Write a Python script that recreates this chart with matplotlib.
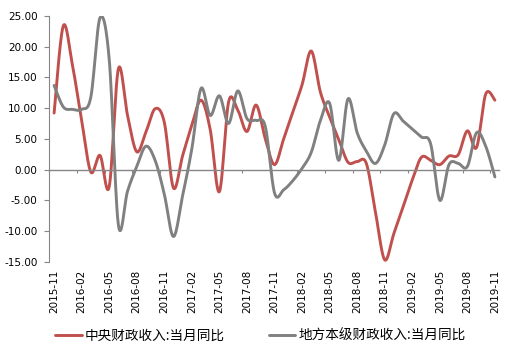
import numpy as np
import matplotlib
matplotlib.use("Agg")
import matplotlib.pyplot as plt
from matplotlib.ticker import FixedLocator, FormatStrFormatter

# monthly, 2015-11 .. 2019-11
months = []
for yr in range(2015, 2020):
    for m in range(1, 13):
        if (yr == 2015 and m < 11) or (yr == 2019 and m > 11):
            continue
        months.append(f"{yr}-{m:02d}")

central = [9.2, 23.4, 17.0, 8.0, -0.4, 2.3, -2.8, 16.4, 8.8, 2.9,
           6.1, 9.9, 7.7, -3.0, 2.3, 7.2, 11.3, 6.5, -3.6, 11.0,
           9.7, 6.2, 10.5, 5.0, 0.8, 5.0, 9.4, 13.8, 19.3, 12.6,
           8.6, 4.9, 1.2, 1.3, 1.0, -7.0, -14.7, -10.4, -6.1, -1.7,
           2.0, 1.5, 0.8, 2.2, 2.4, 6.3, 3.6, 12.3, 11.3]

local = [13.7, 10.2, 9.8, 9.8, 11.8, 24.7, 18.0, -9.0, -3.5, 0.5,
         3.8, 1.5, -4.0, -10.9, -4.2, 3.4, 13.2, 8.8, 12.0, 7.5,
         12.8, 8.3, 8.0, 7.0, -3.8, -3.3, -1.8, 0.2, 2.8, 8.0,
         10.8, 1.5, 11.5, 6.0, 3.0, 1.0, 4.0, 9.1, 7.9, 6.6,
         5.3, 4.2, -5.0, 0.8, 1.0, 0.5, 6.0, 3.8, -1.2]

names = ["中央财政收入:当月同比", "地方本级财政收入:当月同比"]
colors = ["#C0504D", "#808080"]


def smooth(vals, steps=24):
    # excel-like smoothed line (catmull-rom bezier)
    p = np.column_stack([np.arange(len(vals)), np.asarray(vals, float)])
    out = [p[0]]
    t = np.linspace(0, 1, steps)[1:, None]
    for i in range(len(p) - 1):
        p0 = p[max(i - 1, 0)]
        p1, p2 = p[i], p[i + 1]
        p3 = p[min(i + 2, len(p) - 1)]
        c1 = p1 + (p2 - p0) / 6
        c2 = p2 - (p3 - p1) / 6
        seg = ((1 - t) ** 3) * p1 + 3 * ((1 - t) ** 2) * t * c1 \
            + 3 * (1 - t) * t ** 2 * c2 + t ** 3 * p2
        out.extend(seg)
    out = np.array(out)
    return out[:, 0], out[:, 1]


fig = plt.figure(figsize=(5.1, 3.53), dpi=100)
ax = fig.add_axes([49.5 / 510, 1 - 261.7 / 353, 450 / 510, (261.7 - 16) / 353])

handles = []
for vals, name, c in zip([central, local], names, colors):
    xs, ys = smooth(vals)
    h, = ax.plot(xs, ys, color=c, lw=2.1, solid_capstyle="round", label=name)
    handles.append(h)

ax.set_xlim(-0.5, len(months) - 0.5)
ax.set_ylim(-15, 25)
ax.set_yticks(np.arange(-15, 26, 5))
ax.yaxis.set_major_formatter(FormatStrFormatter("%.2f"))

tick_pos = list(range(0, len(months), 3))
ax.set_xticks(tick_pos)
ax.set_xticklabels([months[i] for i in tick_pos])
ax.xaxis.set_minor_locator(FixedLocator([i - 0.5 for i in tick_pos]))

axis_col = "#868686"
for s in ["right", "bottom"]:
    ax.spines[s].set_visible(False)
ax.spines["left"].set_color(axis_col)
ax.spines["top"].set_position(("data", 0))
ax.spines["top"].set_color(axis_col)
ax.spines["top"].set_linewidth(1.0)

ax.tick_params(axis="y", direction="out", length=3.6, width=0.8, color=axis_col,
               pad=5, labelsize=7.5, labelcolor="#000000")
ax.tick_params(axis="x", which="major", length=0, pad=6, labelsize=7.5,
               labelrotation=90, bottom=True, top=False)
ax.tick_params(axis="x", which="minor", top=True, bottom=False, direction="in",
               length=2.5, width=0.8, color=axis_col)
for lab in ax.get_xticklabels():
    lab.set_rotation(90)
    lab.set_va("top")
    lab.set_ha("center")

fig.legend(handles=handles, loc="center left", bbox_to_anchor=(55 / 510, 1 - 336 / 353),
           ncol=2, frameon=False, borderpad=0, borderaxespad=0,
           handlelength=1.95, handletextpad=0.25, columnspacing=3.2,
           prop={"family": ["Noto Sans CJK SC", "DejaVu Sans"], "size": 9.8})

fig.savefig("out.png", dpi=100)
